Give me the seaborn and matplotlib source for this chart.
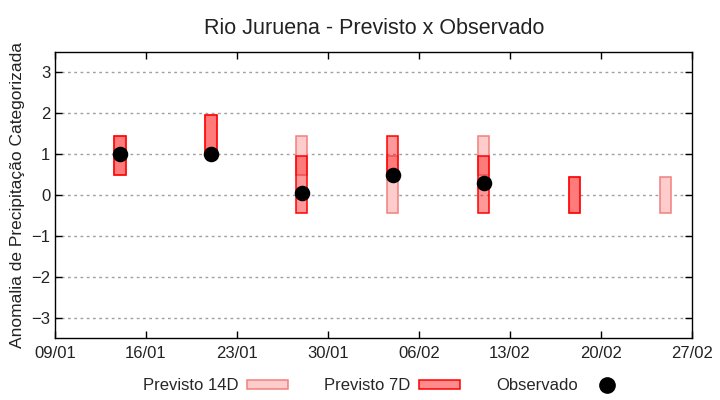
import pandas as pd
import numpy as np
import matplotlib
matplotlib.use("Agg")
import matplotlib.pyplot as plt
import matplotlib.dates as mdates
from matplotlib.patches import Patch
from matplotlib.lines import Line2D
import seaborn as sns

########## Data ##########

# Forecast dates (weekly)
datas = ["2024-01-14", "2024-01-21", "2024-01-28", "2024-02-04",
         "2024-02-11", "2024-02-18", "2024-02-25"]

# Previsto 14D: category range (low / high) per date
prev14_low = [0.5, 1.0, 0.5, -0.45, 0.5, -0.45, -0.45]
prev14_high = [1.45, 1.95, 1.45, 0.95, 1.45, 0.45, 0.45]

# Previsto 7D: category range per date (no forecast for the last date)
prev7_datas = ["2024-01-14", "2024-01-21", "2024-01-28", "2024-02-04",
               "2024-02-11", "2024-02-18"]
prev7_low = [0.5, 1.0, -0.45, 0.5, -0.45, -0.45]
prev7_high = [1.45, 1.95, 0.95, 1.45, 0.95, 0.45]

# Observado
obs_datas = ["2024-01-14", "2024-01-21", "2024-01-28", "2024-02-04", "2024-02-11"]
obs_vals = [1.0, 1.0, 0.05, 0.5, 0.3]

x_ticks = ["2024-01-09", "2024-01-16", "2024-01-23", "2024-01-30",
           "2024-02-06", "2024-02-13", "2024-02-20", "2024-02-27"]

prev14_df = pd.DataFrame({"data": pd.to_datetime(datas), "low": prev14_low, "high": prev14_high})
prev7_df = pd.DataFrame({"data": pd.to_datetime(prev7_datas), "low": prev7_low, "high": prev7_high})
obs_df = pd.DataFrame({"data": pd.to_datetime(obs_datas), "valor": obs_vals})

########## Plot ##########

sns.set_theme(style="white")
plt.rcParams["font.family"] = ["Liberation Sans", "DejaVu Sans"]

fig, ax = plt.subplots(figsize=(7.2, 4.0), dpi=100)
fig.subplots_adjust(left=0.0764, right=0.961, top=0.87, bottom=0.155)

# Previsto 14D boxes
ax.bar(prev14_df["data"], prev14_df["high"] - prev14_df["low"], bottom=prev14_df["low"],
       width=0.85, color="#ffcccc", edgecolor="#f08080", linewidth=1.1, zorder=2)

# Previsto 7D boxes (transparent, on top)
ax.bar(prev7_df["data"], prev7_df["high"] - prev7_df["low"], bottom=prev7_df["low"],
       width=0.85, color=(1, 0, 0, 0.4), edgecolor="red", linewidth=1.1, zorder=3)

# Observado
sns.scatterplot(data=obs_df, x="data", y="valor", color="black", s=125,
                edgecolor="black", linewidth=0, ax=ax, zorder=4, legend=False)

ax.set_ylim(-3.5, 3.5)
ax.set_yticks([-3, -2, -1, 0, 1, 2, 3])
ax.set_xlim(pd.Timestamp(x_ticks[0]), pd.Timestamp(x_ticks[-1]))
ax.set_xticks(pd.to_datetime(x_ticks))
ax.xaxis.set_major_formatter(mdates.DateFormatter("%d/%m"))

ax.yaxis.grid(True, color="#a0a0a0", linestyle=(0, (2, 2.5)), linewidth=1, zorder=0)
ax.xaxis.grid(False)
ax.set_axisbelow(True)

for s in ax.spines.values():
    s.set_color("black")
    s.set_linewidth(1)

ax.tick_params(axis="both", direction="in", length=5, width=1, color="black",
               labelsize=12, labelcolor="#222222", top=True, right=True,
               bottom=True, left=True)
ax.tick_params(axis="x", pad=6)

ax.set_xlabel("")
ax.set_ylabel("Anomalia de Precipitação Categorizada", fontsize=12.5, color="#222222", labelpad=4)
fig.suptitle("Rio Juruena - Previsto x Observado", fontsize=15.5, x=0.52, y=0.955, color="#222222")

handles = [Patch(facecolor="#ffcccc", edgecolor="#f08080", linewidth=1.1),
           Patch(facecolor=(1, 0, 0, 0.45), edgecolor="red", linewidth=1.1),
           Line2D([], [], marker="o", linestyle="none", color="black", markersize=11)]
fig.legend(handles, ["Previsto 14D", "Previsto 7D", "Observado"], ncol=3,
           loc="center", bbox_to_anchor=(0.535, 0.035), frameon=False, fontsize=12,
           markerfirst=False, handlelength=2.45, handleheight=0.4,
           columnspacing=2.2, handletextpad=0.5)

fig.savefig("out.png", dpi=100)
